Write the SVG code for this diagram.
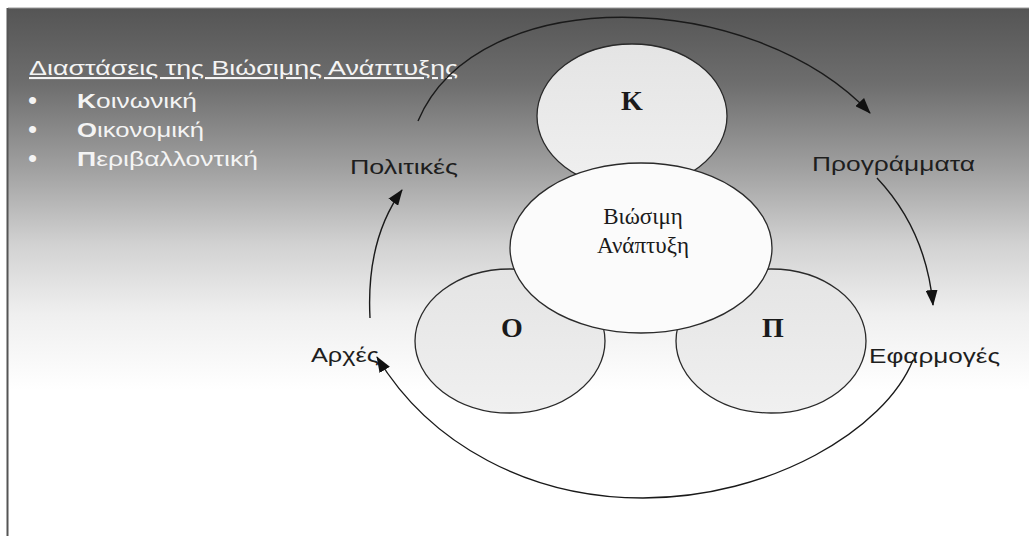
<svg xmlns="http://www.w3.org/2000/svg" width="1029" height="536" viewBox="0 0 1029 536">
  <defs>
    <linearGradient id="bg" gradientUnits="userSpaceOnUse" x1="0" y1="8" x2="0" y2="390">
      <stop offset="0" stop-color="#555555"/>
      <stop offset="0.2" stop-color="#6e6e6e"/>
      <stop offset="0.42" stop-color="#a0a0a0"/>
      <stop offset="0.62" stop-color="#d2d2d2"/>
      <stop offset="0.8" stop-color="#efefef"/>
      <stop offset="1" stop-color="#ffffff"/>
    </linearGradient>
    <linearGradient id="petal" x1="0" y1="0" x2="0" y2="1">
      <stop offset="0" stop-color="#e4e4e4"/>
      <stop offset="1" stop-color="#f0f0f0"/>
    </linearGradient>
    <marker id="ah" viewBox="0 0 16 12" refX="15" refY="6" markerWidth="16" markerHeight="12" markerUnits="userSpaceOnUse" orient="auto">
      <path d="M0,0 L16,6 L0,12 Z" fill="#111"/>
    </marker>
    <style>
      .petal { fill: url(#petal); stroke: #2a2a2a; stroke-width: 1.3; }
      .core { fill: #fbfbfb; stroke: #2a2a2a; stroke-width: 1.3; }
      .serif { font-family: "Liberation Serif", "Times New Roman", serif; fill: #1a1a1a; text-anchor: middle; }
      .big { font-size: 28px; font-weight: bold; }
      .mid { font-size: 23px; }
      .lbl { font-family: "Liberation Sans", Arial, sans-serif; font-size: 21px; fill: #1e1e1e; }
      .wht { font-family: "Liberation Sans", Arial, sans-serif; font-size: 21px; fill: #f4f4f4; }
      .dot { font-family: "Liberation Sans", Arial, sans-serif; font-size: 26px; fill: #f4f4f4; }
      .conn { fill: none; stroke: #1a1a1a; stroke-width: 1.4; }
    </style>
  </defs>

  <rect x="0" y="0" width="1029" height="536" fill="#ffffff"/>
  <rect x="8" y="8" width="1021" height="528" fill="url(#bg)"/>
  <line x1="8" y1="8" x2="1029" y2="8" stroke="#9a9a9a" stroke-width="1"/>
  <line x1="7.5" y1="8" x2="7.5" y2="536" stroke="#555" stroke-width="2"/>

  <g id="title">
    <text class="wht" x="29" y="75" textLength="429" lengthAdjust="spacingAndGlyphs" text-decoration="underline">Διαστάσεις της Βιώσιμης Ανάπτυξης</text>
  </g>
  <g id="bullets">
    <text class="dot" x="28" y="109">•</text>
    <text class="wht" x="77" y="108" textLength="120" lengthAdjust="spacingAndGlyphs"><tspan font-weight="bold">Κ</tspan>οινωνική</text>
    <text class="dot" x="28" y="138">•</text>
    <text class="wht" x="77" y="137" textLength="127" lengthAdjust="spacingAndGlyphs"><tspan font-weight="bold">Ο</tspan>ικονομική</text>
    <text class="dot" x="28" y="167">•</text>
    <text class="wht" x="77" y="166" textLength="181" lengthAdjust="spacingAndGlyphs"><tspan font-weight="bold">Π</tspan>εριβαλλοντική</text>
  </g>

  <g id="node-K">
    <ellipse class="petal" cx="632" cy="116" rx="95" ry="72"/>
    <text class="serif big" x="632" y="110">K</text>
  </g>
  <g id="node-O">
    <ellipse class="petal" cx="510" cy="341" rx="95" ry="72"/>
    <text class="serif big" x="512" y="337">O</text>
  </g>
  <g id="node-P">
    <ellipse class="petal" cx="771" cy="341" rx="95" ry="72"/>
    <text class="serif big" x="773" y="337">Π</text>
  </g>
  <g id="node-core">
    <ellipse class="core" cx="641" cy="248" rx="131" ry="85"/>
    <text class="serif mid" x="643" y="224">Βιώσιμη</text>
    <text class="serif mid" x="643" y="253">Ανάπτυξη</text>
  </g>

  <g id="node-politikes">
    <text class="lbl" x="350" y="174" textLength="108" lengthAdjust="spacingAndGlyphs">Πολιτικές</text>
  </g>
  <g id="node-programmata">
    <text class="lbl" x="812" y="171" textLength="163" lengthAdjust="spacingAndGlyphs">Προγράμματα</text>
  </g>
  <g id="node-efarmoges">
    <text class="lbl" x="869" y="363" textLength="131" lengthAdjust="spacingAndGlyphs">Εφαρμογές</text>
  </g>
  <g id="node-arxes">
    <text class="lbl" x="311" y="362" textLength="68" lengthAdjust="spacingAndGlyphs">Αρχές</text>
  </g>

  <g id="connectors">
    <path class="conn" d="M418,121 C478,-20 752,-12 870,113" marker-end="url(#ah)"/>
    <path class="conn" d="M877,178 Q926,230 933,305" marker-end="url(#ah)"/>
    <path class="conn" d="M913,360 C885,430 770,498 643,498 C530,498 430,445 377,357" marker-end="url(#ah)"/>
    <path class="conn" d="M370,318 Q366,240 402,190" marker-end="url(#ah)"/>
  </g>
</svg>
